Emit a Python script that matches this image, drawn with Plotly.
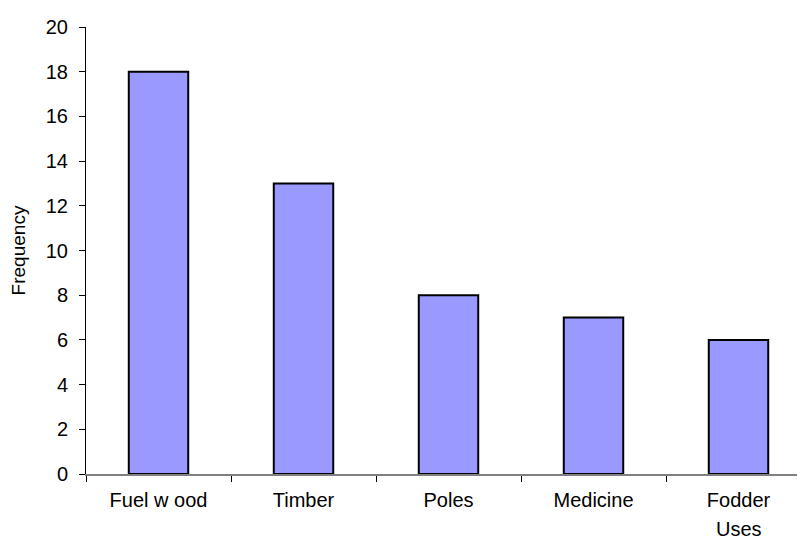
import plotly.graph_objects as go

categories = ["Fuel w ood", "Timber", "Poles", "Medicine", "Fodder"]
frequency = [18, 13, 8, 7, 6]
y_ticks = [0, 2, 4, 6, 8, 10, 12, 14, 16, 18, 20]

FONT = "Liberation Sans, Arial, sans-serif"

fig = go.Figure()
fig.add_trace(go.Bar(
    x=categories, y=frequency,
    marker=dict(color="#9999FF", line=dict(color="black", width=2)),
    width=0.41,
))

# the page body adds an 8px offset; margins compensate for it
fig.update_layout(
    width=805, height=541,
    margin=dict(l=78, r=8, t=16, b=75),
    paper_bgcolor="white", plot_bgcolor="white",
    font=dict(family=FONT, size=20, color="black"),
    showlegend=False,
    annotations=[dict(
        text="Uses", x="Fodder", y=0, xref="x", yref="y",
        yshift=-55, showarrow=False, yanchor="middle", borderpad=0,
        font=dict(family=FONT, size=20, color="black"),
    )],
)
fig.update_xaxes(
    range=[-0.5, -0.5 + 719 / 145],
    showline=True, linecolor="#808080", linewidth=2,
    ticks="outside", tickson="boundaries", ticklen=6, tickcolor="black", tickwidth=1,
    showgrid=False, zeroline=False,
    ticklabelstandoff=7,
)
fig.update_yaxes(
    title=dict(text="Frequency", font=dict(size=19), standoff=16),
    range=[0, 20], tickvals=y_ticks,
    showline=True, linecolor="black", linewidth=1,
    ticks="outside", ticklen=6, tickcolor="black",
    showgrid=False, zeroline=False,
    ticklabelstandoff=7,
)

fig.write_html("out.html")
